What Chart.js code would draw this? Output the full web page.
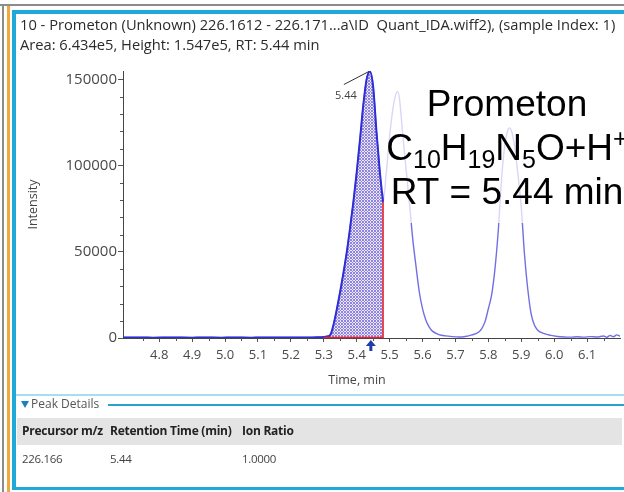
<!DOCTYPE html>
<html>
<head>
<meta charset="utf-8">
<script src="https://cdn.jsdelivr.net/npm/chart.js@4.4.1/dist/chart.umd.min.js"></script>
<style>
  html, body { margin: 0; padding: 0; background: #fff; }
  #page { position: relative; width: 624px; height: 492px; overflow: hidden; background: #fff;
          font-family: "Open Sans", "DejaVu Sans", sans-serif; color: #333; }
  #chartBox { position: absolute; left: 0; top: 0; width: 624px; height: 395px; }
  .rule { position: absolute; z-index: 3; }
  .txt { position: absolute; z-index: 4; white-space: nowrap; line-height: 1; }
  #title1 { left: 20px; top: 17px; font-size: 14.7px; color: #2b2b2b; }
  #title2 { left: 20px; top: 36.5px; font-size: 14.7px; color: #2b2b2b; }
  #detailsLabel { left: 31px; top: 398px; font-size: 12px; color: #555; }
  #tri { position: absolute; left: 21px; top: 401px; width: 0; height: 0; z-index: 4;
         border-left: 4px solid transparent; border-right: 4px solid transparent; border-top: 7px solid #1b7fc4; }
  #headBand { left: 17px; top: 418px; width: 605px; height: 27px; background: #e4e4e4; z-index: 2; }
  .hd { top: 425px; font-size: 12px; font-weight: 700; color: #222; letter-spacing: -0.25px; }
  .cell { top: 453px; font-size: 11.5px; color: #444; letter-spacing: -0.3px; }
</style>
</head>
<body>
<div id="page">
  <div id="chartBox"><canvas id="chrom" width="624" height="395"></canvas></div>

  <!-- window frame -->
  <div class="rule" style="left:0;top:4px;width:624px;height:2px;background:#8c8c8c;"></div>
  <div class="rule" style="left:2px;top:4px;width:2px;height:488px;background:#8c8c8c;"></div>
  <div class="rule" style="left:7px;top:6px;width:3px;height:486px;background:#f2a93b;"></div>
  <div class="rule" style="left:12px;top:10px;width:4px;height:480px;background:#1fa9d9;"></div>
  <div class="rule" style="left:12px;top:10px;width:612px;height:4px;background:#1fa9d9;"></div>
  <div class="rule" style="left:12px;top:487px;width:612px;height:3px;background:#1fa9d9;"></div>
  <div class="rule" style="left:16px;top:394px;width:608px;height:2px;background:#a9dcee;"></div>

  <div id="title1" class="txt">10 - Prometon (Unknown) 226.1612 - 226.171...a\ID&nbsp; Quant_IDA.wiff2), (sample Index: 1)</div>
  <div id="title2" class="txt">Area: 6.434e5, Height: 1.547e5, RT: 5.44 min</div>

  <!-- peak details panel -->
  <div id="tri"></div>
  <div id="detailsLabel" class="txt">Peak Details</div>
  <div class="rule" style="left:108px;top:404px;width:516px;height:2px;background:#2aa3cc;"></div>
  <div id="headBand" class="rule"></div>
  <div class="txt hd" style="left:22px;">Precursor m/z</div>
  <div class="txt hd" style="left:110px;">Retention Time (min)</div>
  <div class="txt hd" style="left:242px;">Ion Ratio</div>
  <div class="txt cell" style="left:22px;">226.166</div>
  <div class="txt cell" style="left:110px;">5.44</div>
  <div class="txt cell" style="left:242px;">1.0000</div>
</div>

<script>
// Extracted ion chromatogram, m/z 226.1612 - 226.171
const times = [
  4.69, 4.72, 4.75, 4.78, 4.81, 4.84, 4.87, 4.90, 4.93, 4.96, 4.99, 5.02, 5.05, 5.08, 5.11,
  5.14, 5.17, 5.20, 5.23, 5.26, 5.28, 5.30, 5.31, 5.32, 5.33, 5.34, 5.35, 5.36, 5.37, 5.38,
  5.39, 5.40, 5.41, 5.42, 5.43, 5.44, 5.45, 5.46, 5.47, 5.48, 5.49, 5.50, 5.51, 5.52, 5.525,
  5.53, 5.54, 5.55, 5.56, 5.57, 5.58, 5.59, 5.60, 5.61, 5.62, 5.63, 5.65, 5.67, 5.69, 5.71,
  5.73, 5.75, 5.77, 5.78, 5.79, 5.80, 5.81, 5.82, 5.83, 5.84, 5.85, 5.86, 5.865, 5.87, 5.88,
  5.89, 5.90, 5.91, 5.92, 5.93, 5.94, 5.95, 5.97, 5.99, 6.01, 6.03, 6.05, 6.07, 6.09, 6.11,
  6.13, 6.15, 6.16, 6.17, 6.18, 6.19, 6.20
];
const intensity = [
  300, 250, 300, 200, 250, 300, 250, 200, 300, 250, 200, 300, 250, 200, 300,
  250, 300, 250, 300, 350, 400, 600, 900, 1800, 8000, 17000, 27000, 38000, 50000, 64000,
  79000, 96000, 115000, 135000, 150000, 154700, 146000, 120000, 97000, 79000, 96000, 117000, 133000, 142000, 143000,
  139000, 118000, 98000, 79000, 58000, 42000, 27000, 17000, 10500, 6500, 4000, 2000, 1200, 800, 600,
  900, 1800, 3300, 5500, 9500, 17000, 25000, 40000, 62000, 92000, 112000, 121000, 122000, 120500, 111000,
  95000, 76000, 48000, 28000, 14000, 7500, 4500, 2500, 1500, 900, 600, 500, 700, 500, 800,
  600, 1200, 400, 1500, 700, 1800, 1000
];

const xTickValues = [4.8, 4.9, 5.0, 5.1, 5.2, 5.3, 5.4, 5.5, 5.6, 5.7, 5.8, 5.9, 6.0, 6.1];
const xTickLabels = ['4.8', '4.9', '5.0', '5.1', '5.2', '5.3', '5.4', '5.5', '5.6', '5.7', '5.8', '5.9', '6.0', '6.1'];
const yTickValues = [0, 50000, 100000, 150000];
const yTickLabels = ['0', '50000', '100000', '150000'];

// integrated peak
const integrationWindow = [5.30, 5.48];
const peakRT = 5.44;
const peakLabel = '5.44';

// compound annotation
const compoundName = 'Prometon';
const formulaParts = [['C', 'n'], ['10', 'sub'], ['H', 'n'], ['19', 'sub'], ['N', 'n'], ['5', 'sub'], ['O+H', 'n'], ['+', 'sup']];
const rtText = 'RT = 5.44 min';

const points = times.map((t, i) => ({ x: t, y: intensity[i] }));
const integrated = points.filter(p => p.x <= integrationWindow[1] + 1e-9);

// hatched fill for the integrated area
function makeHatch() {
  const c = document.createElement('canvas');
  c.width = 3; c.height = 3;
  const g = c.getContext('2d');
  g.fillStyle = '#f1e3f2';
  g.fillRect(0, 0, 3, 3);
  g.fillStyle = '#8a86e4';
  [[0, 0], [2, 0], [1, 1], [0, 2], [2, 2]].forEach(([a, b]) => g.fillRect(a, b, 1, 1));
  return g.createPattern(c, 'repeat');
}

const UI_FONT = '"Open Sans", "DejaVu Sans", sans-serif';
const ANNO_FONT = '"Liberation Sans", Arial, sans-serif';

function line(ctx, x1, y1, x2, y2) {
  ctx.beginPath(); ctx.moveTo(x1, y1); ctx.lineTo(x2, y2); ctx.stroke();
}

const chromPlugin = {
  id: 'chromMarks',
  afterDatasetsDraw(chart) {
    const { ctx, chartArea: ca, scales: { x, y } } = chart;
    ctx.save();

    // minor ticks
    ctx.strokeStyle = '#555';
    ctx.lineWidth = 1;
    for (let i = 1; i < 16; i++) {
      const v = i * 10000;
      if (v % 50000 === 0) continue;
      const py = Math.round(y.getPixelForValue(v)) + 0.5;
      line(ctx, ca.left - 3, py, ca.left, py);
    }
    for (let i = 0; i < 15; i++) {
      const v = 4.75 + i * 0.1;
      const px = Math.round(x.getPixelForValue(v)) + 0.5;
      line(ctx, px, ca.bottom, px, ca.bottom + 3);
    }

    // integration baseline and end boundary
    const y0 = y.getPixelForValue(0);
    const xs = x.getPixelForValue(integrationWindow[0]);
    const xe = x.getPixelForValue(integrationWindow[1]);
    const endIdx = times.findIndex(t => Math.abs(t - integrationWindow[1]) < 1e-9);
    const ye = y.getPixelForValue(intensity[endIdx]);
    ctx.strokeStyle = '#e5232d';
    ctx.lineWidth = 1.6;
    ctx.beginPath();
    ctx.moveTo(xs, y0 - 0.5);
    ctx.lineTo(xe, y0 - 0.5);
    ctx.lineTo(xe, ye);
    ctx.stroke();

    // apex label with leader line
    const apexIdx = times.findIndex(t => Math.abs(t - peakRT) < 1e-9);
    const ax = x.getPixelForValue(peakRT);
    const ay = y.getPixelForValue(intensity[apexIdx]);
    ctx.strokeStyle = '#333';
    ctx.lineWidth = 1;
    line(ctx, ax - 1, ay, ax - 26, ay + 13);
    ctx.fillStyle = '#444';
    ctx.font = '11px ' + UI_FONT;
    ctx.textAlign = 'center';
    ctx.textBaseline = 'middle';
    ctx.fillText(peakLabel, ax - 24, ay + 24);

    // retention time marker below the axis
    ctx.fillStyle = '#1f3fa8';
    ctx.beginPath();
    ctx.moveTo(ax + 1, y0 + 2);
    ctx.lineTo(ax - 4, y0 + 8);
    ctx.lineTo(ax + 6, y0 + 8);
    ctx.closePath();
    ctx.fill();
    ctx.fillRect(ax - 0.5, y0 + 8, 3, 5);

    // translucent backing behind the compound annotation
    ctx.fillStyle = 'rgba(255,255,255,0.72)';
    ctx.fillRect(384, 62, 240, 161);

    // compound annotation
    const cx = 507;
    ctx.fillStyle = '#000';
    ctx.textBaseline = 'alphabetic';
    ctx.textAlign = 'center';
    ctx.font = '37px ' + ANNO_FONT;
    ctx.fillText(compoundName, cx, 116);
    ctx.fillText(rtText, cx, 204);

    const fontFor = k => (k === 'n' ? '37px ' : '25px ') + ANNO_FONT;
    let total = 0;
    formulaParts.forEach(([s, k]) => { ctx.font = fontFor(k); total += ctx.measureText(s).width; });
    let px = cx - total / 2;
    ctx.textAlign = 'left';
    formulaParts.forEach(([s, k]) => {
      ctx.font = fontFor(k);
      const dy = k === 'sub' ? 8 : (k === 'sup' ? -13 : 0);
      ctx.fillText(s, px, 160 + dy);
      px += ctx.measureText(s).width;
    });

    ctx.restore();
  },
  afterDraw(chart) {
    const { ctx, chartArea: ca } = chart;
    ctx.save();
    ctx.fillStyle = '#444';
    ctx.font = '12.5px ' + UI_FONT;
    ctx.textAlign = 'center';
    ctx.textBaseline = 'middle';
    ctx.fillText('Time, min', 357, 380);
    ctx.translate(33, (ca.top + ca.bottom) / 2);
    ctx.rotate(-Math.PI / 2);
    ctx.fillText('Intensity', 0, 0);
    ctx.restore();
  }
};

const ctx = document.getElementById('chrom').getContext('2d');
new Chart(ctx, {
  type: 'line',
  data: {
    datasets: [
      {
        label: 'XIC',
        data: points,
        borderColor: '#7070e4',
        borderWidth: 1.4,
        pointRadius: 0,
        cubicInterpolationMode: 'monotone',
        fill: false,
        order: 2
      },
      {
        label: 'Integrated',
        data: integrated,
        borderColor: '#2e2ed4',
        borderWidth: 2,
        pointRadius: 0,
        cubicInterpolationMode: 'monotone',
        fill: 'origin',
        backgroundColor: makeHatch(),
        order: 1
      }
    ]
  },
  options: {
    responsive: false,
    animation: false,
    devicePixelRatio: 1,
    layout: { padding: { top: 71, right: 4, left: 0, bottom: 0 } },
    plugins: { legend: { display: false }, tooltip: { enabled: false } },
    scales: {
      x: {
        type: 'linear',
        min: 4.69,
        max: 6.20,
        afterFit: s => { s.height = 57; },
        afterBuildTicks: s => { s.ticks = xTickValues.map(v => ({ value: v })); },
        border: { display: true, color: '#454545', width: 1 },
        grid: { display: true, drawOnChartArea: false, drawTicks: true, tickLength: 4, color: '#555' },
        ticks: {
          autoSkip: false, maxRotation: 0, padding: 5, color: '#4a4a4a',
          font: { family: UI_FONT, size: 13 },
          callback: (v) => { const i = xTickValues.findIndex(t => Math.abs(t - v) < 1e-9); return i >= 0 ? xTickLabels[i] : ''; }
        }
      },
      y: {
        type: 'linear',
        min: 0,
        max: 155000,
        afterFit: s => { s.width = 123; },
        afterBuildTicks: s => { s.ticks = yTickValues.map(v => ({ value: v })); },
        border: { display: true, color: '#454545', width: 1 },
        grid: { display: true, drawOnChartArea: false, drawTicks: true, tickLength: 5, color: '#555' },
        ticks: {
          padding: 1, color: '#4a4a4a',
          font: { family: UI_FONT, size: 15 },
          callback: (v) => { const i = yTickValues.indexOf(v); return i >= 0 ? yTickLabels[i] : ''; }
        }
      }
    }
  },
  plugins: [chromPlugin]
});
</script>
</body>
</html>
